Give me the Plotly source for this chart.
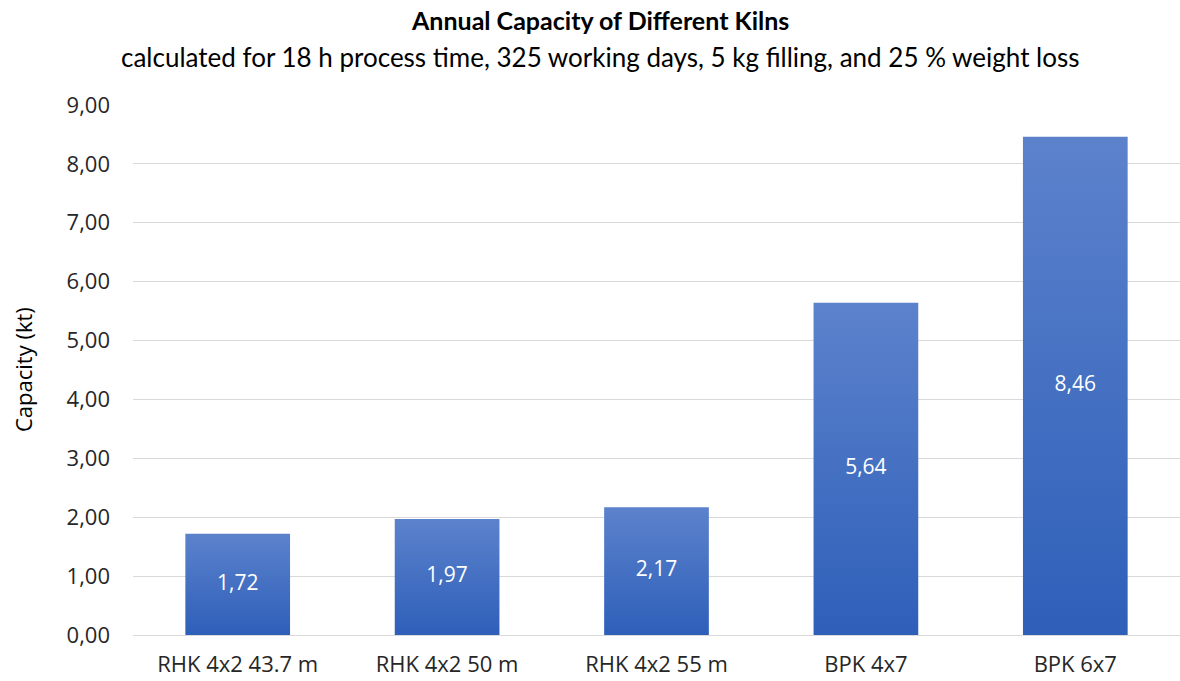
import plotly.graph_objects as go

# Kiln types and their annual capacity (kt)
kilns = ["RHK 4x2 43.7 m", "RHK 4x2 50 m", "RHK 4x2 55 m", "BPK 4x7", "BPK 6x7"]
capacity = [1.72, 1.97, 2.17, 5.64, 8.46]
y_ticks = [0, 1, 2, 3, 4, 5, 6, 7, 8, 9]

TICK_FONT = "Open Sans"
TITLE_FONT = "Lato"
BAR_HALF = 0.25
GRADIENT = [[0, "#2e5fb9"], [1, "#5c82cc"]]

W, H = 1180, 681
M_L, M_R, M_T, M_B = 133, 0, 105, 46

fig = go.Figure()

# Each bar is a filled polygon so it can carry a vertical colour gradient
for i, v in enumerate(capacity):
    fig.add_trace(go.Scatter(
        x=[i - BAR_HALF, i - BAR_HALF, i + BAR_HALF, i + BAR_HALF, i - BAR_HALF],
        y=[0, v, v, 0, 0],
        mode="lines",
        line=dict(width=0),
        fill="toself",
        fillgradient=dict(type="vertical", colorscale=GRADIENT),
        hoverinfo="skip",
        showlegend=False,
    ))

# Value labels centred in each bar
fig.add_trace(go.Scatter(
    x=list(range(len(kilns))),
    y=[v / 2 for v in capacity],
    mode="text",
    text=[f"{v:.2f}".replace(".", ",") for v in capacity],
    textposition="middle center",
    textfont=dict(family=TICK_FONT, size=21, color="white"),
    hoverinfo="skip",
    showlegend=False,
))

fig.update_layout(
    width=W,
    height=H,
    margin=dict(l=M_L, r=M_R, t=M_T, b=M_B),
    paper_bgcolor="white",
    plot_bgcolor="white",
    separators=",.",
    showlegend=False,
    xaxis=dict(
        range=[-0.5, len(kilns) - 0.5],
        tickvals=list(range(len(kilns))),
        ticktext=kilns,
        showgrid=False,
        zeroline=False,
        showline=False,
        ticks="",
        ticklabelstandoff=14,
        tickfont=dict(family=TICK_FONT, size=22, color="#262626"),
        fixedrange=True,
    ),
    yaxis=dict(
        range=[0, 9],
        tickvals=y_ticks,
        tickformat=".2f",
        showgrid=True,
        gridcolor="#d9d9d9",
        gridwidth=1,
        zeroline=True,
        zerolinecolor="#d9d9d9",
        zerolinewidth=1,
        showline=False,
        ticks="",
        ticklabelstandoff=22,
        tickfont=dict(family=TICK_FONT, size=22, color="#262626"),
        fixedrange=True,
    ),
)

plot_w = W - M_L - M_R
plot_h = H - M_T - M_B
x_paper = lambda px: (px - M_L) / plot_w
y_paper = lambda px: 1 + (M_T - px) / plot_h

fig.add_annotation(
    text="<b>Annual Capacity of Different Kilns</b>",
    x=x_paper(600), y=y_paper(20), xref="paper", yref="paper",
    yanchor="middle", xanchor="center", showarrow=False,
    font=dict(family=TITLE_FONT, size=25, color="#000000"),
)

fig.add_annotation(
    text="calculated for 18 h process time, 325 working days, 5 kg filling, and 25 % weight loss",
    x=x_paper(600), y=y_paper(57), xref="paper", yref="paper",
    yanchor="middle", xanchor="center", showarrow=False,
    font=dict(family=TITLE_FONT, size=26, color="#000000"),
)

fig.add_annotation(
    text="Capacity (kt)",
    x=x_paper(23), y=0.5, xref="paper", yref="paper",
    textangle=-90, xanchor="center", yanchor="middle", showarrow=False,
    font=dict(family=TICK_FONT, size=22, color="#000000"),
)

fig.write_html("out.html")
